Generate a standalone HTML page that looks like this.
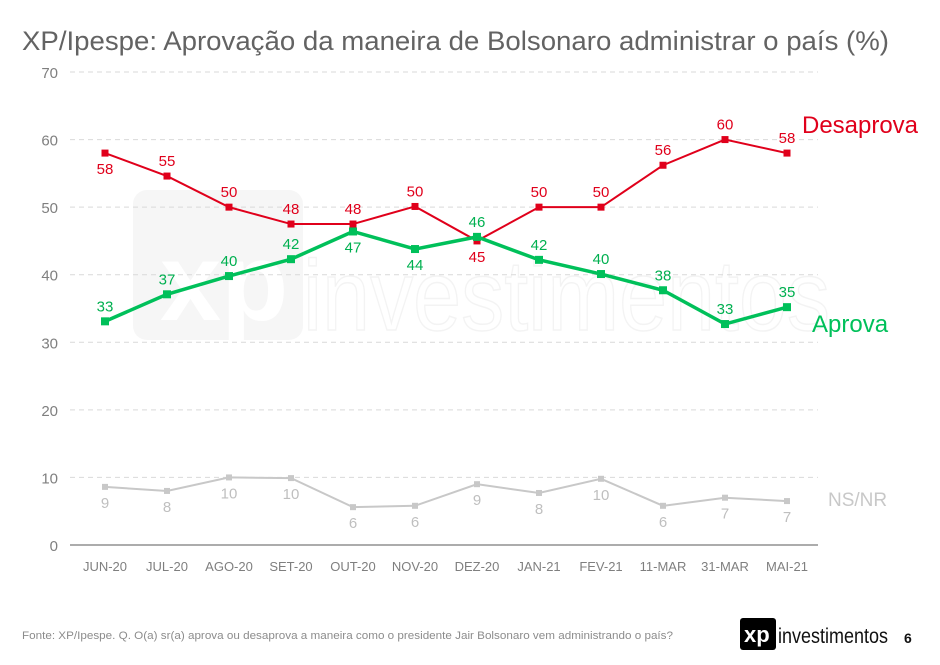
<!DOCTYPE html>
<html><head><meta charset="utf-8">
<style>
body{margin:0;background:#fff;width:940px;height:660px;overflow:hidden;font-family:"Liberation Sans",sans-serif}
</style></head>
<body>
<svg id="chart" width="940" height="660" xmlns="http://www.w3.org/2000/svg" font-family="Liberation Sans, sans-serif">
<text x="22" y="50" font-size="27" fill="#636363" textLength="867" lengthAdjust="spacingAndGlyphs">XP/Ipespe: Aprovação da maneira de Bolsonaro administrar o país (%)</text>
<g opacity="0.45">
<rect x="133" y="190" width="170" height="150" rx="14" fill="#ececec"/>
<text x="160" y="320" font-size="110" font-weight="bold" fill="#fff">xp</text>
<text x="303" y="330" font-size="100" fill="none" stroke="#e6e6e6" stroke-width="1.5" textLength="527" lengthAdjust="spacingAndGlyphs">investimentos</text>
</g>
<g id="grid"></g>
<g id="series"></g>
<text x="802" y="133" font-size="24" fill="#e0001b" textLength="116" lengthAdjust="spacingAndGlyphs">Desaprova</text>
<text x="812" y="332" font-size="24" fill="#00c05a">Aprova</text>
<text x="828" y="506" font-size="19" fill="#c8c8c8">NS/NR</text>
<text x="22" y="639" font-size="11" fill="#8c8c8c" textLength="651" lengthAdjust="spacingAndGlyphs">Fonte: XP/Ipespe. Q. O(a) sr(a) aprova ou desaprova a maneira como o presidente Jair Bolsonaro vem administrando o país?</text>
<g>
<rect x="740" y="618" width="36" height="32" rx="3" fill="#000"/>
<text x="744" y="642" font-size="22" font-weight="bold" fill="#fff">xp</text>
<text x="778" y="643" font-size="21" fill="#111" textLength="110" lengthAdjust="spacingAndGlyphs">investimentos</text>
<text x="904" y="643" font-size="14" font-weight="bold" fill="#111">6</text>
</g>
</svg>
<script>
const categories=["JUN-20","JUL-20","AGO-20","SET-20","OUT-20","NOV-20","DEZ-20","JAN-21","FEV-21","11-MAR","31-MAR","MAI-21"];
const desaprova=[58,54.6,50,47.5,47.5,50.1,45,50,50,56.2,60,58];
const desaprovaLabels=[58,55,50,48,48,50,45,50,50,56,60,58];
const desaprovaBelow=[1,0,0,0,0,0,1,0,0,0,0,0];
const aprova=[33.1,37.1,39.8,42.3,46.4,43.8,45.6,42.2,40.1,37.7,32.7,35.2];
const aprovaLabels=[33,37,40,42,47,44,46,42,40,38,33,35];
const aprovaBelow=[0,0,0,0,1,1,0,0,0,0,0,0];
const nsnr=[8.6,8,10,9.9,5.6,5.8,9,7.7,9.8,5.8,7,6.5];
const nsnrLabels=[9,8,10,10,6,6,9,8,10,6,7,7];
const nsnrBelow=[1,1,1,1,1,1,1,1,1,1,1,1];
const yTicks=[0,10,20,30,40,50,60,70];
const NS="http://www.w3.org/2000/svg";
const X=i=>105+i*62, Y=v=>545-v*(473/70);
function mk(t,a,p){const e=document.createElementNS(NS,t);for(const k in a)e.setAttribute(k,a[k]);p.appendChild(e);return e;}
const g=document.getElementById('grid');
yTicks.forEach(t=>{
 const l=mk('line',{x1:70,x2:818,y1:Y(t),y2:Y(t),stroke:t?'#d9d9d9':'#595959','stroke-width':1,'stroke-dasharray':t?'5,4':'none'},g);
 
 
 const tx=mk('text',{x:58,y:Y(t)+6,'font-size':15,fill:'#7f7f7f','text-anchor':'end'},g);tx.textContent=t;
 
 
});
categories.forEach((c,i)=>{
 const tx=mk('text',{x:X(i),y:571,'font-size':13,fill:'#7f7f7f','text-anchor':'middle'},g);tx.textContent=c;
 
 
});
const s=document.getElementById('series');
function series(name,vals,labs,below,color,w,ms,lblColor){
 const pl=mk('polyline',{points:vals.map((v,i)=>X(i)+','+Y(v)).join(' '),fill:'none',stroke:color,'stroke-width':w},s);
 
 
 vals.forEach((v,i)=>{
  const r=mk('rect',{x:X(i)-ms/2,y:Y(v)-ms/2,width:ms,height:ms,fill:color},s);
  
  
  const t=mk('text',{x:X(i),y:below[i]?Y(v)+21:Y(v)-10,'font-size':15,fill:lblColor,'text-anchor':'middle'},s);
  t.textContent=labs[i];
  
  
 });
}
series('nsnr',nsnr,nsnrLabels,nsnrBelow,'#c8c8c8',2,6,'#bfbfbf');
series('desaprova',desaprova,desaprovaLabels,desaprovaBelow,'#e0001b',2,7,'#e0001b');
series('aprova',aprova,aprovaLabels,aprovaBelow,'#00c05a',3.5,8,'#00b050');
</script>
</body></html>
